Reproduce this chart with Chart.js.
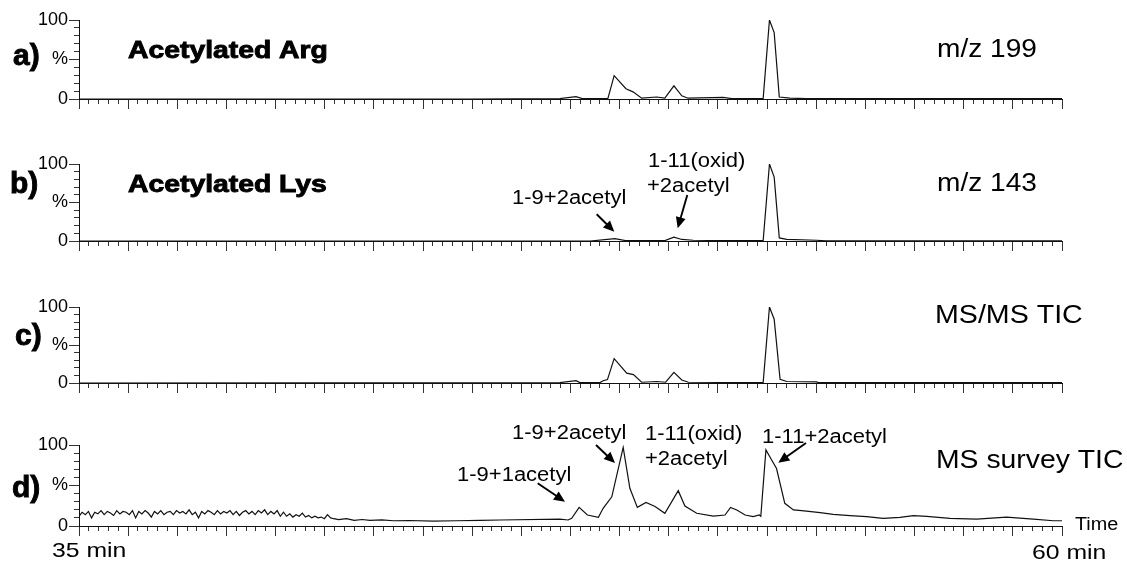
<!DOCTYPE html>
<html lang="en">
<head>
<meta charset="UTF-8">
<title>Acetylated peptides - ion chromatograms</title>
<script src="https://cdn.jsdelivr.net/npm/chart.js"></script>
<style>
  body { margin: 0; background: #fff; width: 1127px; height: 565px; position: relative; overflow: hidden; }
  .panel { position: absolute; left: 0; width: 1127px; }
</style>
</head>
<body>
<div class="panel" style="top:0;height:130px"><canvas id="chartA"></canvas></div>
<div class="panel" style="top:130px;height:140px"><canvas id="chartB"></canvas></div>
<div class="panel" style="top:270px;height:140px"><canvas id="chartC"></canvas></div>
<div class="panel" style="top:410px;height:155px"><canvas id="chartD"></canvas></div>

<script>
const FONT = '"Liberation Sans", Arial, Helvetica, sans-serif';

// a) acetylated Arg, m/z 199  (time in min, intensity in %)
const timesA  = [35, 45, 47.23, 47.64, 47.8, 48.45, 48.61, 48.91, 49.09, 49.31, 49.69, 49.9, 50.13, 50.33, 50.49, 51.38, 51.6, 52.4, 52.56, 52.68, 52.81, 53.08, 53.5, 60];
const valuesA = [0,  0,  0.5,   3,     0.5,  0.5,   29.5,  13,    9,     1,     2.5,   1,    16.7,  4,     1,     2,     0.5,  0.5,  100,   84,    2.5,   1,     0.5,  0.5];

// b) acetylated Lys, m/z 143
const timesB  = [35, 48, 48.63, 48.9, 49.9, 50.13, 50.33, 50.62, 51.5, 52.4, 52.56, 52.68, 52.81, 53, 53.76, 54, 60];
const valuesB = [0,  0,  3,     0.5,  0.5,  5,     2,     1,     0.5,  0.5,  100,   83,    4,     2,  1,     0.3, 0.3];

// c) MS/MS TIC
const timesC  = [35, 47.23, 47.64, 47.74, 48.25, 48.33, 48.44, 48.61, 48.93, 49.1, 49.31, 49.69, 49.92, 50.13, 50.33, 50.5, 52.4, 52.56, 52.68, 52.83, 53, 53.76, 53.8, 60];
const valuesC = [0,  0.5,   3,     0.5,   0.5,   3,     4.5,   32,    13,    11,   1,     2,     1,     14,    4,     1,    0.5,  100,   84,    5,     2,  1.5,   0.5,  0.5];

// d) MS survey TIC
const timesD = [
  35.00, 35.08, 35.16, 35.24, 35.32, 35.40, 35.48, 35.56, 35.64, 35.72,
  35.80, 35.88, 35.96, 36.04, 36.12, 36.20, 36.28, 36.36, 36.44, 36.52,
  36.60, 36.68, 36.76, 36.84, 36.92, 37.00, 37.08, 37.16, 37.24, 37.32,
  37.40, 37.48, 37.56, 37.64, 37.72, 37.80, 37.88, 37.96, 38.04, 38.12,
  38.20, 38.28, 38.36, 38.44, 38.52, 38.60, 38.68, 38.76, 38.84, 38.92,
  39.00, 39.08, 39.16, 39.24, 39.32, 39.40, 39.48, 39.56, 39.64, 39.72,
  39.80, 39.88, 39.96, 40.04,
  40.12, 40.20, 40.28, 40.36, 40.44, 40.52, 40.60, 40.68, 40.76, 40.84,
  40.92, 41.00, 41.08, 41.16, 41.24, 41.32, 41.40, 41.48,
  41.60, 41.80, 42.00, 42.20, 42.40, 42.70, 43.00, 43.40, 44.00, 44.60, 45.20, 45.71,
  47.23, 47.44, 47.53, 47.72, 47.93, 48.21, 48.33, 48.55, 48.84, 49.01,
  49.20, 49.42, 49.65, 49.90, 50.24, 50.41, 50.71, 51.13, 51.43, 51.57,
  51.73, 51.94, 52.15, 52.30, 52.34, 52.47, 52.59, 52.74, 52.95, 53.17,
  53.38, 53.85, 54.18, 54.61, 55.03, 55.45, 55.88, 56.22, 56.56, 57.15,
  57.83, 58.59, 59.27, 59.78, 60.00
];
const valuesD = [
  12, 17, 14, 18, 10, 17, 15, 19, 14, 18,
  16, 13, 19, 15, 18, 17, 14, 19, 10, 18,
  15, 19, 16, 11, 18, 15, 19, 14, 17, 18,
  14, 19, 16, 18, 15, 20, 14, 17, 10, 18,
  15, 19, 17, 14, 19, 15, 18, 16, 19, 14,
  18, 13, 17, 19, 15, 18, 14, 19, 16, 20,
  14, 18, 15, 19,
  12, 17, 12, 15, 11, 14, 12, 16, 11, 13,
  10, 12, 10, 11, 9, 14, 10, 9,
  8, 9, 7, 8, 7, 7.5, 6.5, 6.8, 6, 6.5, 7, 7.4,
  8.6, 7.4, 9.5, 23, 13.6, 10.7, 21.8, 36, 97, 46.5,
  23, 29, 24, 15.6, 43.6, 24.7, 15.7, 12.3, 13.6, 23,
  19.8, 13.6, 11.5, 13.6, 12, 94, 83.6, 71, 28, 19.8,
  19, 16.5, 14.4, 12.8, 11.5, 9.5, 10.7, 12.8, 12, 9.5,
  8.6, 11, 8.6, 6.5, 6.5
];

// draws the free text and arrows of a panel (page coordinates)
const panelText = {
  id: 'panelText',
  afterDraw(chart, args, opts) {
    const ctx = chart.ctx;
    const top = opts.top || 0;
    ctx.save();
    ctx.fillStyle = '#000';
    ctx.strokeStyle = '#000';
    (opts.labels || []).forEach(l => {
      ctx.save();
      ctx.font = (l.bold ? 'bold ' : '') + l.size + 'px ' + FONT;
      ctx.textBaseline = 'alphabetic';
      ctx.translate(l.x, l.y - top);
      ctx.scale(l.sx || 1, 1);
      ctx.fillText(l.text, 0, 0);
      if (l.bold) {
        // heavier face like the original print
        ctx.lineWidth = 0.9;
        ctx.strokeText(l.text, 0, 0);
      }
      ctx.restore();
    });
    (opts.arrows || []).forEach(a => {
      const x1 = a[0], y1 = a[1] - top, x2 = a[2], y2 = a[3] - top;
      const ang = Math.atan2(y2 - y1, x2 - x1);
      const hl = 11, hw = 5;
      const c = Math.cos(ang), s = Math.sin(ang);
      ctx.lineWidth = 1.9;
      ctx.beginPath();
      ctx.moveTo(x1, y1);
      ctx.lineTo(x2 - hl * c * 0.8, y2 - hl * s * 0.8);
      ctx.stroke();
      ctx.beginPath();
      ctx.moveTo(x2, y2);
      ctx.lineTo(x2 - hl * c + hw * s, y2 - hl * s - hw * c);
      ctx.lineTo(x2 - hl * c - hw * s, y2 - hl * s + hw * c);
      ctx.closePath();
      ctx.fill();
    });
    ctx.restore();
  }
};

function makeChart(canvasId, times, values, pad, text) {
  const points = times.map((t, i) => ({ x: t, y: values[i] }));
  return new Chart(document.getElementById(canvasId), {
    type: 'line',
    data: {
      datasets: [{
        data: points,
        borderColor: '#111',
        borderWidth: 1.2,
        pointRadius: 0,
        tension: 0,
        fill: false
      }]
    },
    options: {
      responsive: true,
      maintainAspectRatio: false,
      animation: false,
      layout: { padding: { top: pad[0], bottom: pad[1], left: 0, right: 65 } },
      plugins: {
        legend: { display: false },
        tooltip: { enabled: false },
        panelText: text
      },
      scales: {
        // minor time ticks (0.25 min)
        x: {
          type: 'linear', axis: 'x', min: 35, max: 60, position: { y: 0 },
          ticks: { display: false, stepSize: 0.25, autoSkip: false, maxTicksLimit: 200 },
          grid: { drawOnChartArea: false, tickLength: 4, color: '#333' },
          border: { display: true, color: '#111', width: 1 }
        },
        // major time ticks
        xMajor: {
          type: 'linear', axis: 'x', min: 35, max: 60, position: { y: 0 },
          ticks: { display: false, stepSize: 1.25, autoSkip: false, maxTicksLimit: 200 },
          grid: { drawOnChartArea: false, tickLength: 10, color: '#333' },
          border: { display: false }
        },
        // minor % ticks
        y: {
          type: 'linear', axis: 'y', min: 0, max: 100, position: { x: 35 },
          ticks: { display: false, stepSize: 10 },
          grid: { drawOnChartArea: false, tickLength: 5, color: '#333' },
          border: { display: false }
        },
        yMajor: {
          type: 'linear', axis: 'y', min: 0, max: 100, position: 'left',
          afterFit: s => { s.width = 79; },
          ticks: {
            stepSize: 50, padding: 1, color: '#000',
            font: { family: FONT, size: 18 },
            callback: v => v === 50 ? '%' : String(v)
          },
          grid: { drawOnChartArea: false, tickLength: 10, color: '#333' },
          border: { display: true, color: '#111', width: 1 }
        }
      }
    },
    plugins: [panelText]
  });
}

makeChart('chartA', timesA, valuesA, [20, 31], {
  top: 0,
  labels: [
    { text: 'a)', x: 13, y: 65, size: 30, bold: true },
    { text: 'Acetylated Arg', x: 128, y: 58, size: 24, bold: true, sx: 1.18 },
    { text: 'm/z 199', x: 937, y: 57, size: 26, sx: 1.08 }
  ]
});

makeChart('chartB', timesB, valuesB, [34, 29], {
  top: 130,
  labels: [
    { text: 'b)', x: 10, y: 193, size: 30, bold: true },
    { text: 'Acetylated Lys', x: 128, y: 192, size: 24, bold: true, sx: 1.18 },
    { text: 'm/z 143', x: 937, y: 191, size: 26, sx: 1.08 },
    { text: '1-9+2acetyl', x: 512, y: 204, size: 20, sx: 1.1 },
    { text: '1-11(oxid)', x: 648, y: 167, size: 20, sx: 1.1 },
    { text: '+2acetyl', x: 647, y: 192, size: 20, sx: 1.1 }
  ],
  arrows: [[596.7, 214.3, 614.3, 231.7], [687.3, 195, 677.7, 228.3]]
});

makeChart('chartC', timesC, valuesC, [37, 27], {
  top: 270,
  labels: [
    { text: 'c)', x: 15, y: 345, size: 30, bold: true },
    { text: 'MS/MS TIC', x: 935, y: 323, size: 26, sx: 1.1 }
  ]
});

makeChart('chartD', timesD, valuesD, [35, 39], {
  top: 410,
  labels: [
    { text: 'd)', x: 12, y: 497, size: 30, bold: true },
    { text: 'MS survey TIC', x: 936, y: 468, size: 26, sx: 1.09 },
    { text: '1-9+2acetyl', x: 512, y: 439, size: 20, sx: 1.1 },
    { text: '1-11(oxid)', x: 645, y: 440, size: 20, sx: 1.1 },
    { text: '+2acetyl', x: 645, y: 465, size: 20, sx: 1.1 },
    { text: '1-11+2acetyl', x: 762, y: 443, size: 20, sx: 1.1 },
    { text: '1-9+1acetyl', x: 457, y: 481, size: 20, sx: 1.1 },
    { text: 'Time', x: 1075, y: 530, size: 18, sx: 1.1 },
    { text: '35 min', x: 52, y: 557, size: 21, sx: 1.18 },
    { text: '60 min', x: 1032, y: 559, size: 21, sx: 1.18 }
  ],
  arrows: [[596, 445, 615, 463], [806, 443, 778.3, 462.7], [537.7, 483.3, 565, 501.7]]
});
</script>
</body>
</html>
